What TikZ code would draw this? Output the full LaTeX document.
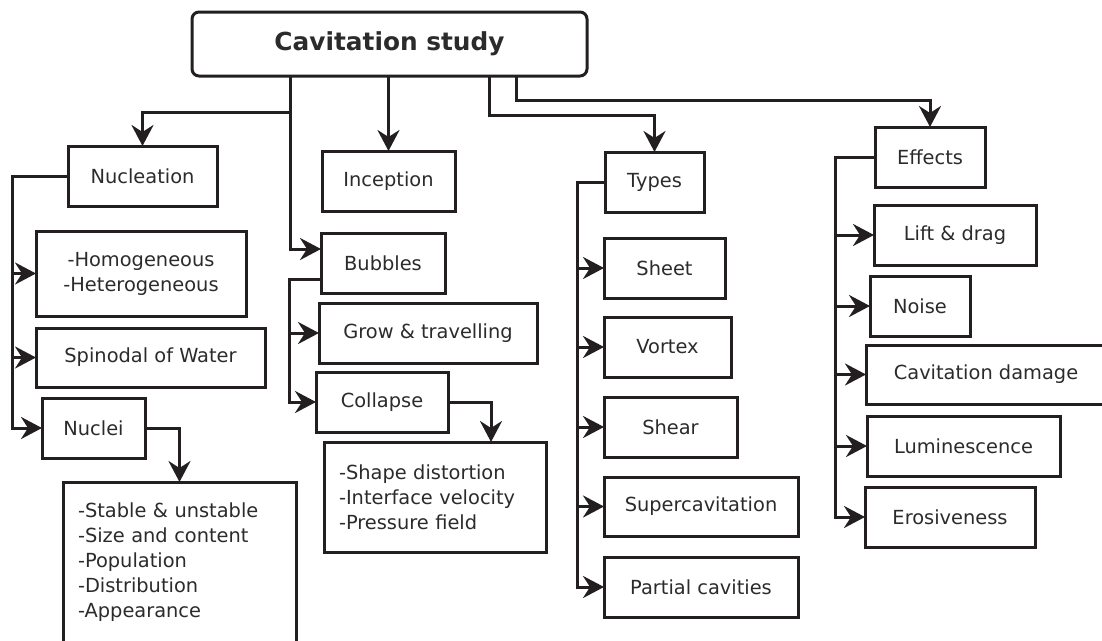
\documentclass[tikz,border=0pt]{standalone}
\usepackage{fontspec}
\setmainfont{DejaVu Sans}
\usetikzlibrary{arrows.meta}
\definecolor{ink}{HTML}{231F20}
\definecolor{txt}{HTML}{2B2B2B}
\begin{document}
\begin{tikzpicture}[x=1pt,y=1pt,
  box/.style={draw=ink, line width=3pt, rectangle, inner sep=0pt, outer sep=0pt,
    text=txt, font=\fontsize{19.4}{25}\selectfont, align=center},
  listbox/.style={box, align=left, inner xsep=15pt},
  arr/.style={draw=ink, line width=3pt, line join=miter,
    -{Stealth[length=21pt,width=22pt,inset=7pt]}}]
\useasboundingbox (0,0) rectangle (1102,-640);
\clip (0,0) rectangle (1102,-640);
% title
\node[box, rounded corners=7pt, minimum width=395pt, minimum height=64pt,
  font=\fontsize{24.8}{30}\selectfont\bfseries] (top) at (389.5,-44) {Cavitation study};
% level 1
\node[box, minimum width=149pt, minimum height=60pt] (nucl) at (142.5,-176) {Nucleation};
\node[box, minimum width=133pt, minimum height=60pt] (incep) at (388.5,-181) {Inception};
\node[box, minimum width=99pt, minimum height=60pt] (types) at (654.5,-182) {Types};
\node[box, minimum width=110pt, minimum height=60pt] (effects) at (930,-157) {Effects};
% nucleation
\node[box, minimum width=210pt, minimum height=85pt] (homo) at (141,-273.5) {-Homogeneous\\-Heterogeneous};
\node[box, minimum width=229pt, minimum height=59pt] (spin) at (150.5,-357.5) {Spinodal of Water};
\node[box, minimum width=103pt, minimum height=60pt] (nuclei) at (93.5,-428) {Nuclei};
\node[listbox, text width=203pt, minimum height=160pt] (nlist) at (179.5,-562)
  {-Stable \& unstable\\-Size and content\\-Population\\-Distribution\\-Appearance};
% bubbles
\node[box, minimum width=124pt, minimum height=60pt] (bub) at (383,-263) {Bubbles};
\node[box, minimum width=218pt, minimum height=60pt] (grow) at (428,-333) {Grow \& travelling};
\node[box, minimum width=132pt, minimum height=60pt] (coll) at (382,-402) {Collapse};
\node[listbox, text width=192pt, minimum height=110pt] (clist) at (435,-497)
  {-Shape distortion\\-Interface velocity\\-Pressure field};
% types
\node[box, minimum width=121pt, minimum height=60pt] (sheet) at (664.5,-268) {Sheet};
\node[box, minimum width=127pt, minimum height=60pt] (vortex) at (667.5,-347) {Vortex};
\node[box, minimum width=133pt, minimum height=60pt] (shear) at (670.5,-427) {Shear};
\node[box, minimum width=194pt, minimum height=59pt] (super) at (701,-506.5) {Supercavitation};
\node[box, minimum width=194pt, minimum height=60pt] (partial) at (701,-587) {Partial cavities};
% effects
\node[box, minimum width=162pt, minimum height=60pt] (lift) at (955,-235) {Lift \& drag};
\node[box, minimum width=100pt, minimum height=60pt] (noise) at (920,-306) {Noise};
\node[box, minimum width=240pt, minimum height=59pt] (cdam) at (986,-374.5) {Cavitation damage};
\node[box, minimum width=193pt, minimum height=60pt] (lum) at (963.5,-446) {Luminescence};
\node[box, minimum width=170pt, minimum height=60pt] (eros) at (950,-517) {Erosiveness};
% connectors from title
\draw[arr] ([xshift=98pt]top.south west) -- ++(0,-36) -| (nucl.north);
\draw[arr] ([xshift=98pt]top.south west) |- ([yshift=14pt]bub.west);
\draw[arr] (incep.north |- top.south) -- (incep.north);
\draw[arr] ([xshift=297pt]top.south west) -- ++(0,-39) -| (types.north);
\draw[arr] ([xshift=324pt]top.south west) -- ++(0,-24) -| (effects.north);
% nucleation branch
\draw[arr] (nucl.west) -- ++(-56,0) |- (homo.west);
\draw[arr] (nucl.west) -- ++(-56,0) |- (spin.west);
\draw[arr] (nucl.west) -- ++(-56,0) |- (nuclei.west);
\draw[arr] (nuclei.east) -| (nlist.north);
% bubbles branch
\draw[arr] ([yshift=-16pt]bub.west) -- ++(-32,0) |- (grow.west);
\draw[arr] ([yshift=-16pt]bub.west) -- ++(-32,0) |- (coll.west);
\draw[arr] (coll.east) -| ([xshift=-55pt]clist.north east);
% types branch
\draw[arr] (types.west) -- ++(-28,0) |- (sheet.west);
\draw[arr] (types.west) -- ++(-28,0) |- (vortex.west);
\draw[arr] (types.west) -- ++(-28,0) |- (shear.west);
\draw[arr] (types.west) -- ++(-28,0) |- (super.west);
\draw[arr] (types.west) -- ++(-28,0) |- (partial.west);
% effects branch
\draw[arr] (effects.west) -- ++(-40,0) |- (lift.west);
\draw[arr] (effects.west) -- ++(-40,0) |- (noise.west);
\draw[arr] (effects.west) -- ++(-40,0) |- (cdam.west);
\draw[arr] (effects.west) -- ++(-40,0) |- (lum.west);
\draw[arr] (effects.west) -- ++(-40,0) |- (eros.west);
\end{tikzpicture}
\end{document}
